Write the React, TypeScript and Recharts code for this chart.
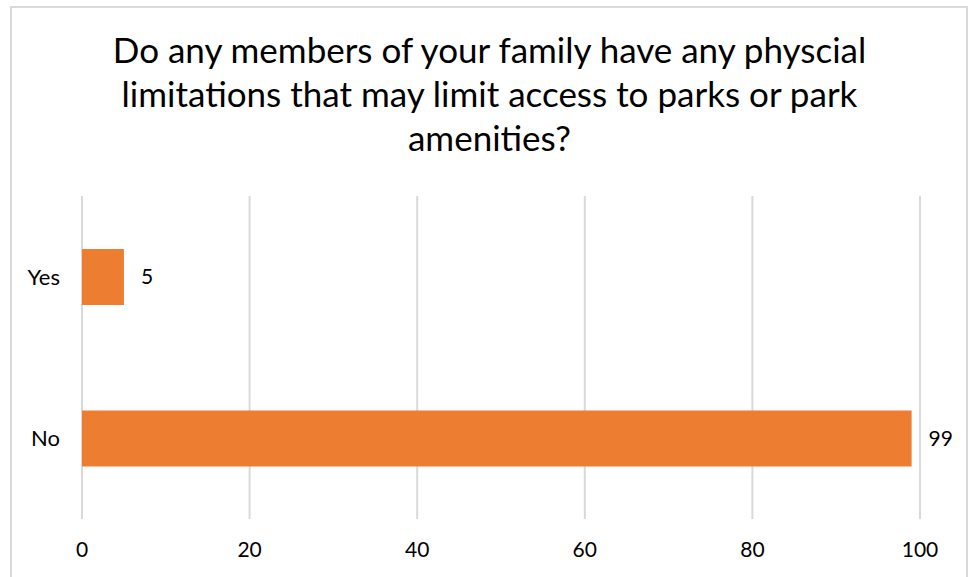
import React from "react";
import { BarChart, Bar, XAxis, YAxis, CartesianGrid, LabelList } from "recharts";

const TITLE_LINES = [
  "Do any members of your family have any physcial",
  "limitations that may limit access to parks or park",
  "amenities?",
];
const CATEGORIES = ["Yes", "No"];
const COUNTS = [5, 99];
const X_TICKS = [0, 20, 40, 60, 80, 100];

const BAR_COLOR = "#ED7D31";
const GRID_COLOR = "#D9D9D9";
const FONT = "Lato, 'Open Sans', sans-serif";

const data = CATEGORIES.map((name, i) => ({ name, value: COUNTS[i] }));

export default function App() {
  return (
    <div
      style={{
        position: "absolute",
        left: 0,
        top: 0,
        width: 975,
        height: 577,
        overflow: "hidden",
        background: "#fff",
        fontFamily: FONT,
      }}
    >
      <div
        style={{
          position: "absolute",
          left: 10,
          top: 6,
          width: 958,
          height: 600,
          border: `2px solid ${GRID_COLOR}`,
          boxSizing: "border-box",
        }}
      />
      <div
        style={{
          position: "absolute",
          left: 2,
          top: 27,
          width: 975,
          textAlign: "center",
          fontSize: 35,
          lineHeight: "44px",
          color: "#000",
        }}
      >
        {TITLE_LINES.map((t) => (
          <div key={t}>{t}</div>
        ))}
      </div>
      <div style={{ position: "absolute", left: 0, top: 0 }}>
        <BarChart
          width={975}
          height={577}
          data={data}
          layout="vertical"
          margin={{ top: 196, right: 55, bottom: 18, left: 0 }}
          barSize={56}
        >
          <CartesianGrid stroke={GRID_COLOR} strokeWidth={2} horizontal={false} vertical />
          <XAxis
            type="number"
            domain={[0, 100]}
            ticks={X_TICKS}
            axisLine={false}
            tickLine={false}
            tickMargin={17}
            height={40}
            tick={{ fill: "#000", fontSize: 21, fontFamily: FONT }}
          />
          <YAxis
            type="category"
            dataKey="name"
            width={82}
            axisLine={false}
            tickLine={false}
            tickMargin={16}
            tick={{ fill: "#000", fontSize: 22, fontFamily: FONT }}
          />
          <Bar dataKey="value" fill={BAR_COLOR} isAnimationActive={false}>
            <LabelList
              dataKey="value"
              position="right"
              offset={17}
              style={{ fill: "#000", fontSize: 21, fontFamily: FONT }}
            />
          </Bar>
        </BarChart>
      </div>
    </div>
  );
}
